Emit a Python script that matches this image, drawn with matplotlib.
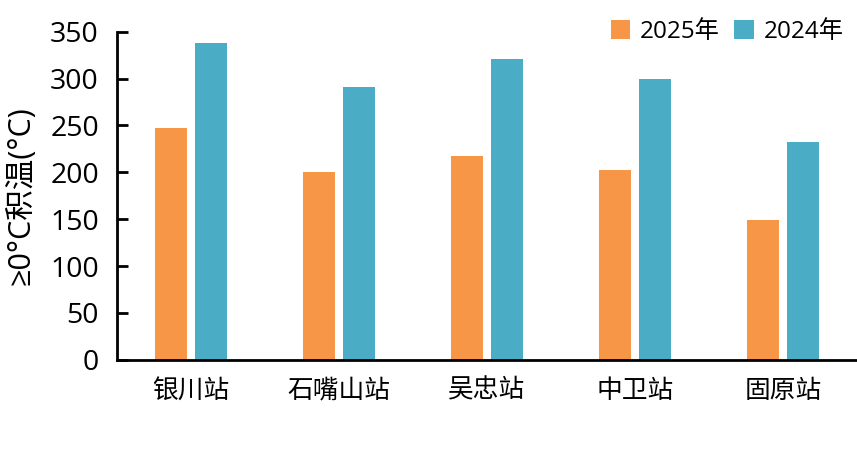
import numpy as np
import matplotlib
matplotlib.use("Agg")
import matplotlib.pyplot as plt

plt.rcParams['font.family'] = ['Open Sans', 'Noto Sans CJK SC', 'DejaVu Sans']

# data
stations = ['银川站', '石嘴山站', '吴忠站', '中卫站', '固原站']
acc_2025 = [247, 200, 217, 202, 149]
acc_2024 = [338, 291, 321, 300, 232]
series_names = ['2025年', '2024年']

fig = plt.figure(figsize=(8.57, 4.59), dpi=100)
ax = fig.add_axes([0.1365, 0.216, 0.8635, 0.715])

x = np.arange(len(stations))
w = 0.21
ax.bar(x - 0.135, acc_2025, w, color='#F79646', label=series_names[0])
ax.bar(x + 0.135, acc_2024, w, color='#4BACC6', label=series_names[1])

ax.set_xlim(-0.5, len(stations) - 0.5)
ax.set_ylim(0, 350)
ax.set_yticks(range(0, 351, 50))
ax.set_xticks(x)
ax.set_xticklabels(stations, fontsize=18.5, fontweight='medium',
                   family=['Noto Sans CJK SC', 'DejaVu Sans'])
ax.tick_params(axis='y', direction='in', length=8, width=2, labelsize=20.5, pad=13)
ax.tick_params(axis='x', length=0, pad=13)
ax.set_ylabel('≥0°C积温(°C)', fontsize=22, labelpad=10)

for s in ['top', 'right']:
    ax.spines[s].set_visible(False)
ax.spines['left'].set_linewidth(2)
ax.spines['bottom'].set_linewidth(2)

ax.legend(loc='upper right', bbox_to_anchor=(0.995, 1.065), ncol=2, frameon=False,
          fontsize=17.5, handlelength=0.8, handleheight=0.8, handletextpad=0.4,
          columnspacing=0.6, borderaxespad=0)

fig.savefig('out.png', dpi=100)
